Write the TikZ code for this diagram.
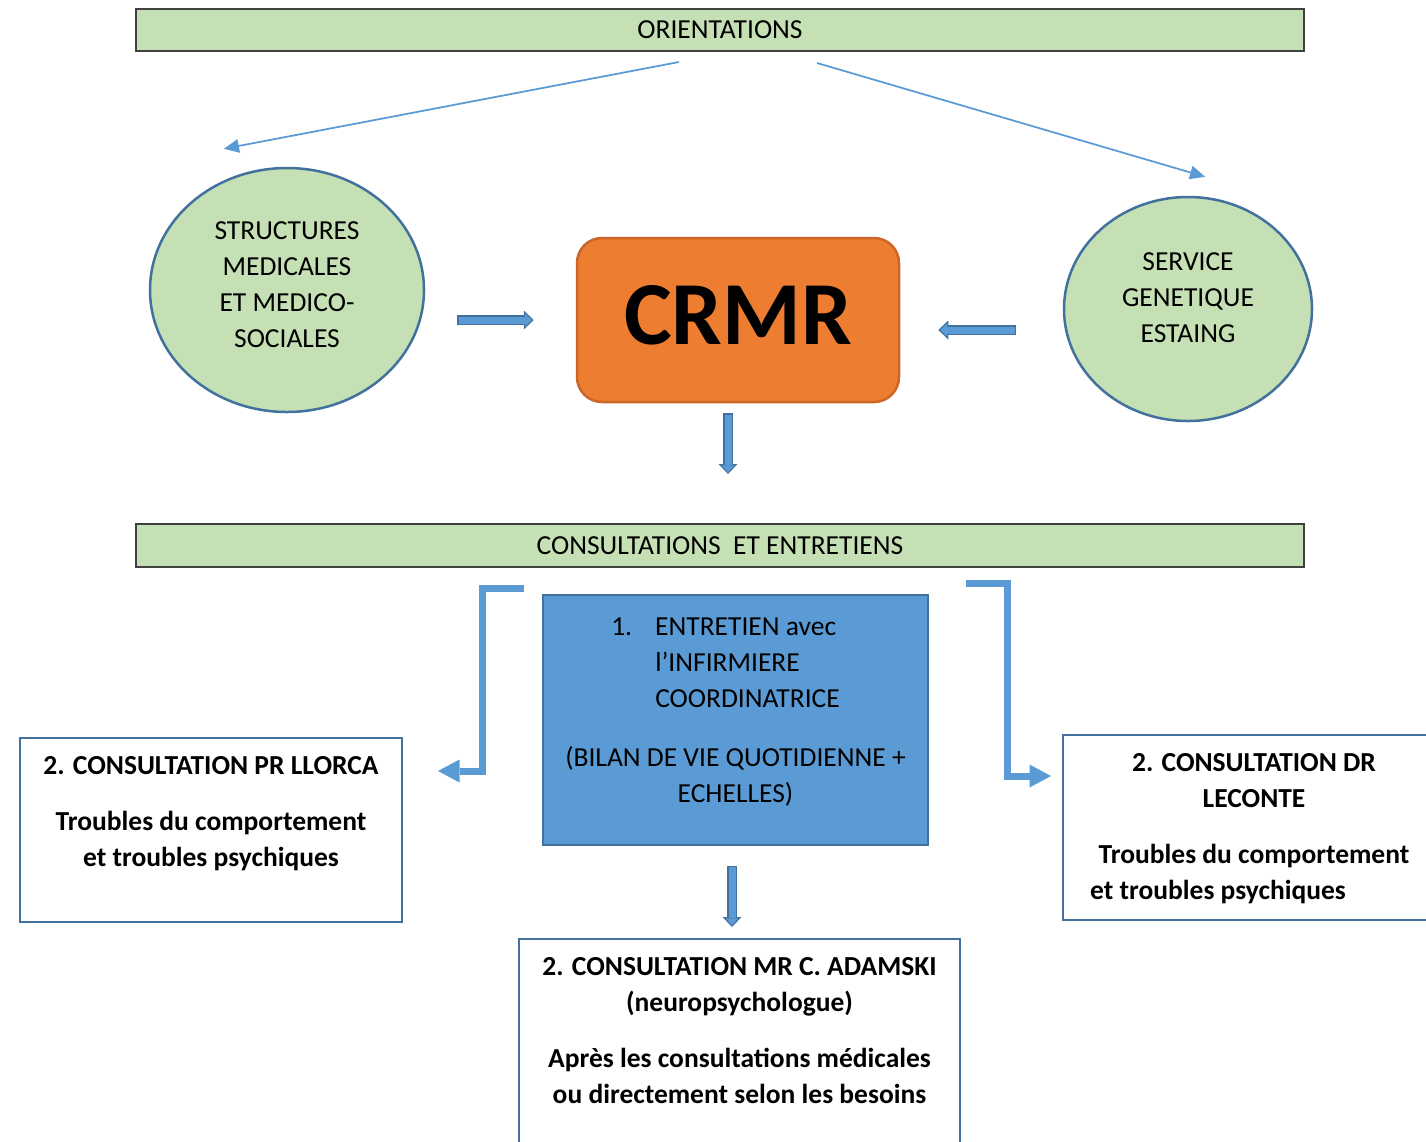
\documentclass[tikz,border=0pt]{standalone}
\usepackage{fontspec}
\setmainfont{Carlito}
\usetikzlibrary{calc,positioning,shapes.geometric,arrows.meta}

\definecolor{boxgreen}{RGB}{197,224,180}
\definecolor{boxblue}{RGB}{91,155,213}
\definecolor{lineblue}{RGB}{65,113,156}
\definecolor{crmrorange}{RGB}{237,125,49}
\definecolor{crmrline}{RGB}{204,102,40}

\newcommand{\topbox}[3]{\parbox[c][#1][t]{#2}{\centering\strut #3}}
\newcommand{\sitetext}[2]{\raisebox{#1}[0pt][0pt]{\begin{tabular}{@{}c@{}}#2\end{tabular}}}
\newcommand{\blockarrow}[2]{%
	\draw[blockout] #1 -- #2;
	\draw[blockin] #1 -- #2;}

\tikzset{
	txt/.style={font=\fontsize{11}{14.4}\selectfont},
	bar/.style={txt, draw=black!75, line width=0.8pt, fill=boxgreen, minimum width=467.2pt, minimum height=16.8pt, inner sep=0pt},
	site/.style={txt, ellipse, draw=lineblue, line width=1pt, fill=boxgreen, inner sep=0pt},
	crmrbox/.style={draw=crmrline, line width=1pt, fill=crmrorange, rounded corners=10pt, minimum width=128.8pt, minimum height=65.6pt, text depth=4pt, font=\fontsize{36}{40}\selectfont\bfseries},
	entbox/.style={txt, draw=lineblue, line width=0.8pt, fill=boxblue, inner xsep=4.7pt, inner ysep=6.3pt},
	consbox/.style={txt, draw=lineblue, line width=0.8pt, fill=white, inner sep=4.7pt},
	thinarrow/.style={draw=boxblue, line width=0.7pt, -{Triangle[length=6pt,width=5.6pt,line width=0pt]}},
	elbow/.style={draw=boxblue, line width=2.8pt, line join=miter, -{Triangle[length=8.6pt,width=9.2pt,line width=0pt]}},
	blockout/.style={draw=lineblue, line width=3.8pt, -{Triangle[length=4pt,width=7.6pt,line width=0pt]}},
	blockin/.style={draw=boxblue, line width=2.8pt, shorten <=0.5pt, shorten >=0.73pt, -{Triangle[length=2.77pt,width=5.26pt,line width=0pt]}}
}

\begin{document}
\begin{tikzpicture}[x=0.4pt,y=-0.4pt]
	\clip (0,0) rectangle (1426,1141);
	\fill[white] (0,0) rectangle (1426,1141);

	\node[bar] (orient) at (720,30) {ORIENTATIONS};
	\node[site, minimum width=109.6pt, minimum height=97.6pt] (struct) at (287,290) {\sitetext{-1.3pt}{STRUCTURES\\MEDICALES\\ET MEDICO-\\SOCIALES}};
	\node[site, minimum width=99.2pt, minimum height=89.6pt] (genet) at (1188,309) {\sitetext{1.3pt}{SERVICE\\GENETIQUE\\ESTAING}};
	\node[crmrbox] (crmr) at (738,320) {CRMR};
	\node[bar, minimum height=17.2pt] (consult) at (720,545.5) {CONSULTATIONS\ \ ET ENTRETIENS};

	\node[entbox] (entret) at (735.5,720) {\topbox{87.4pt}{144.6pt}{%
		\begin{tabular}{@{}p{17.6pt}@{}l@{}}1. & ENTRETIEN avec\\ & l'INFIRMIERE\\ & COORDINATRICE\end{tabular}\hspace*{8pt}\mbox{}\\[10pt]
		(BILAN DE VIE QUOTIDIENNE +\\ECHELLES)}};
	\node[consbox] (llorca) at (211,830) {\topbox{64.2pt}{143.4pt}{\bfseries 2. CONSULTATION PR LLORCA\\[8pt]
		Troubles du comportement\\et troubles psychiques}};
	\node[consbox] (leconte) at (1254,827.5) {\topbox{64.6pt}{143.4pt}{\bfseries 2. CONSULTATION DR\\LECONTE\\[8pt]
		Troubles du comportement\\et troubles psychiques\hspace*{28.8pt}\mbox{}}};
	\node[consbox] (adamski) at (739.5,1049.5) {\topbox{79pt}{167pt}{\bfseries 2. CONSULTATION MR C. ADAMSKI\\(neuropsychologue)\\[8pt]
		Après les consultations médicales\\ou directement selon les besoins}};

	\draw[thinarrow] ($(orient.south)+(-41,10)$) -- ($(struct.north)+(-63,-18)$);
	\draw[thinarrow] ($(orient.south)+(97,11)$) -- ($(genet.north)+(17,-19)$);

	\blockarrow{($(struct.east)+(32,30)$)}{($(crmr.west)+(-42,0)$)}
	\blockarrow{($(genet.west)+(-47,21)$)}{($(crmr.east)+(38,10)$)}
	\blockarrow{($(crmr.south)+(-10,10)$)}{($(consult.north)+(8,-49)$)}
	\blockarrow{($(entret.south)+(-3.5,20)$)}{($(adamski.north)+(-7.5,-11)$)}

	\draw[elbow] ($(consult.south)+(-196,20)$) -| ($(llorca.east)+(79,-59)$) -- ($(llorca.east)+(35,-59)$);
	\draw[elbow] ($(consult.south)+(246,15)$) -| ($(leconte.west)+(-55,-51.5)$) -- ($(leconte.west)+(-11,-51.5)$);
\end{tikzpicture}
\end{document}
